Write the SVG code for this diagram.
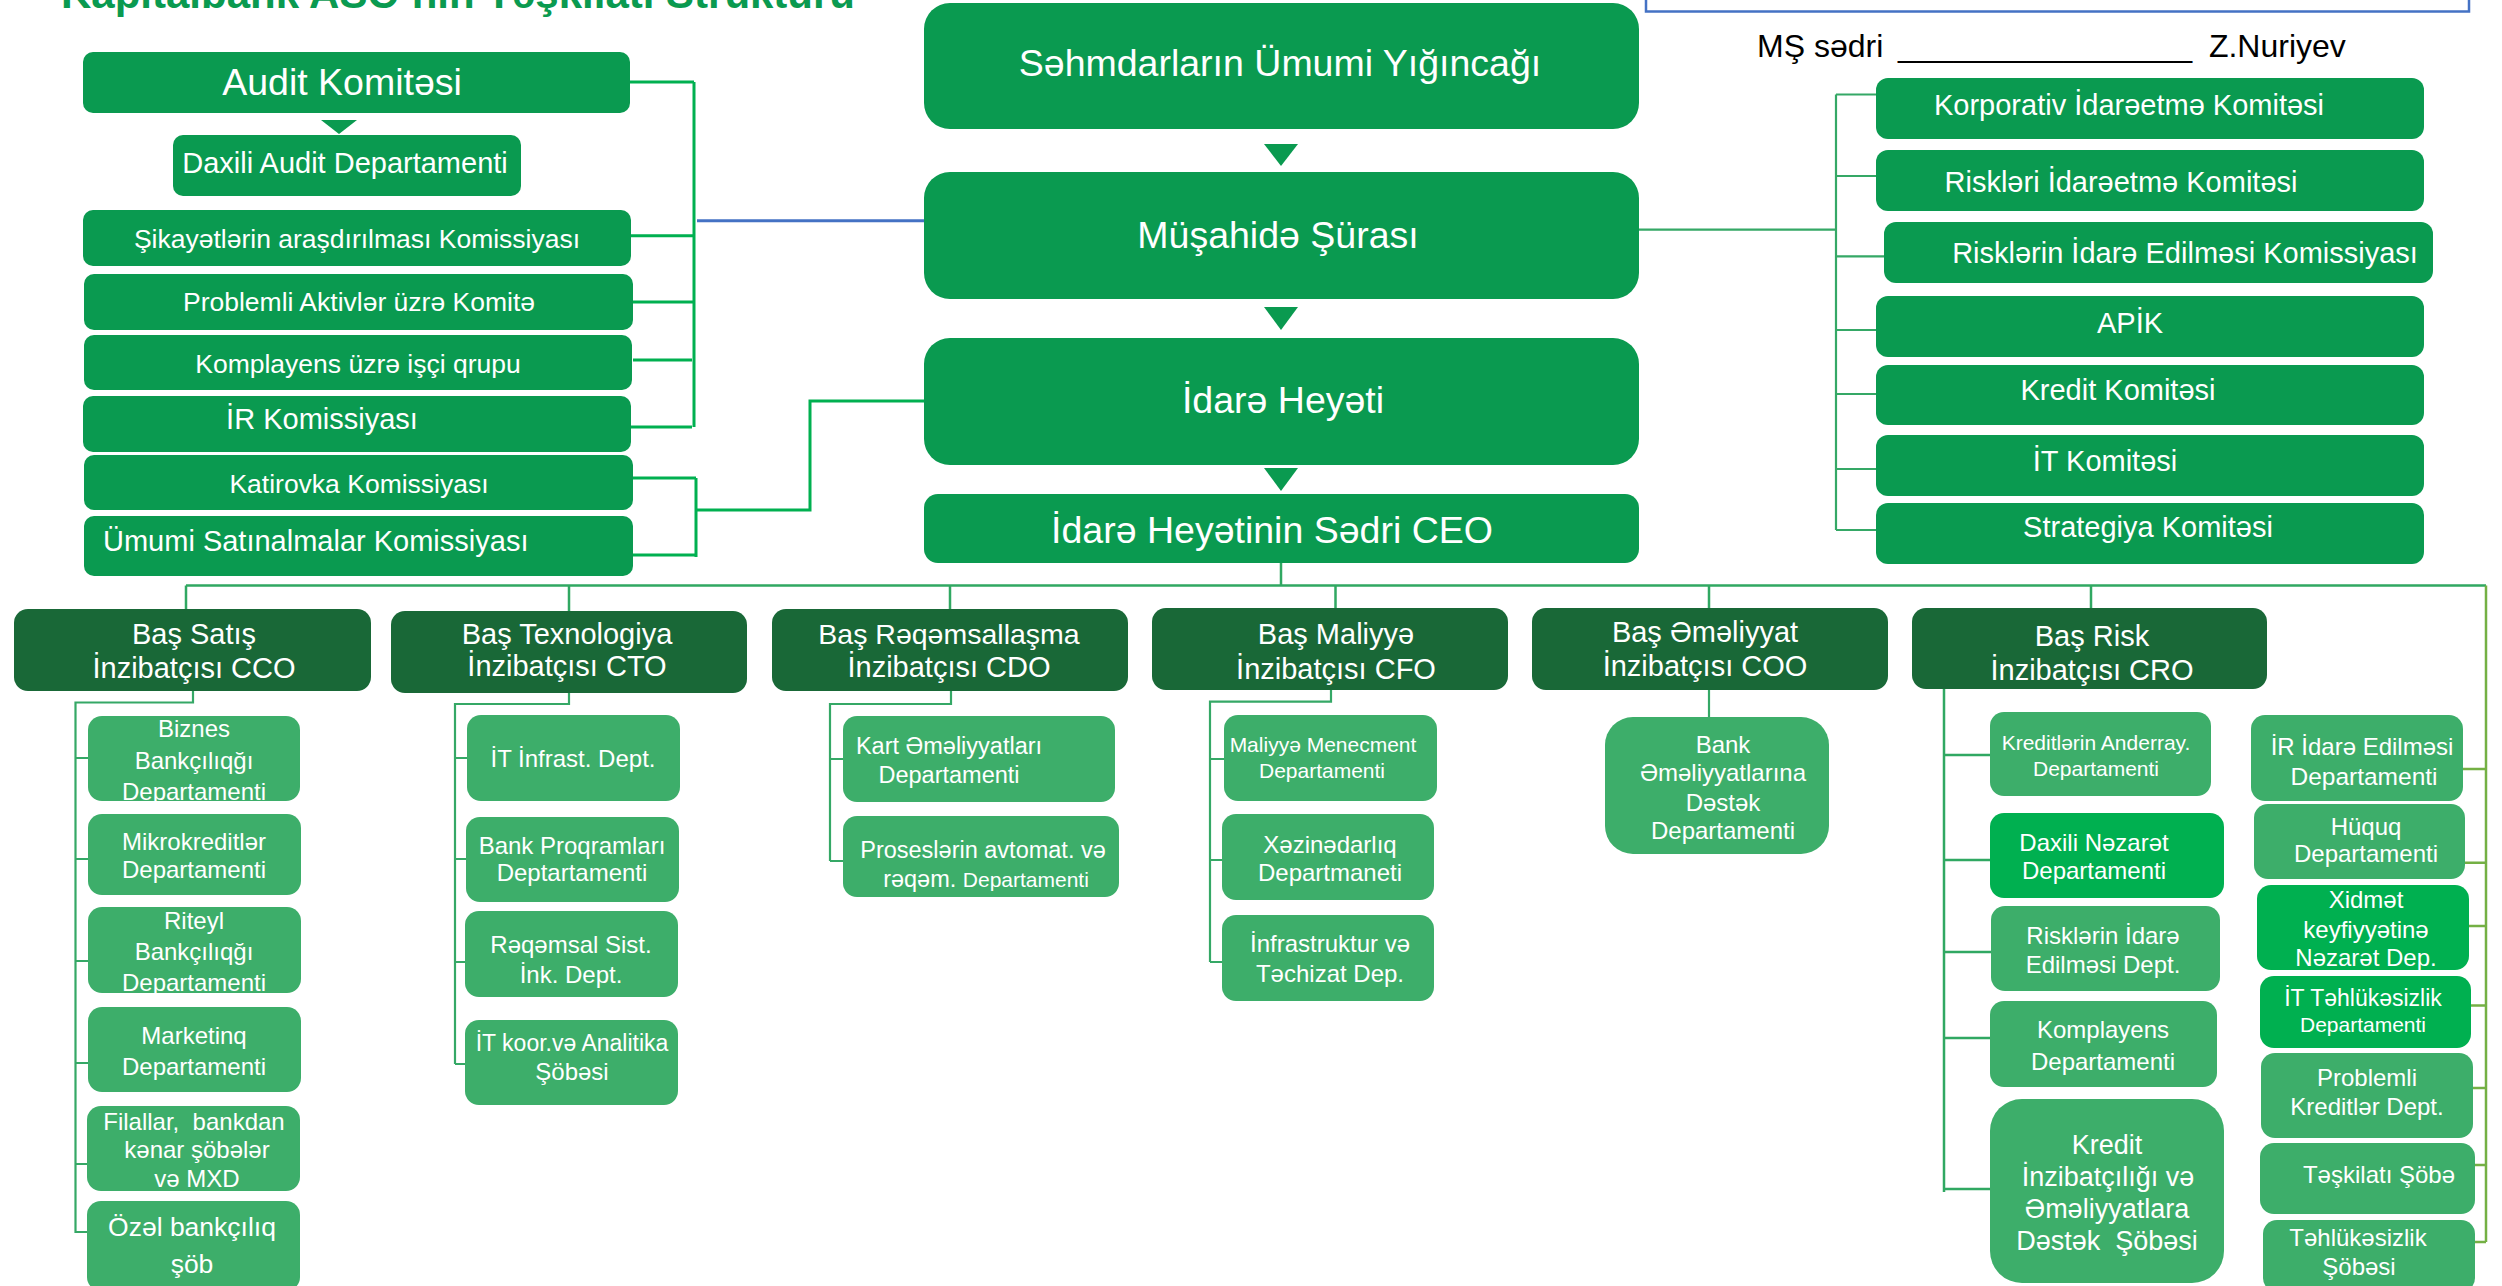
<svg xmlns="http://www.w3.org/2000/svg" width="2502" height="1286" viewBox="0 0 2502 1286">
<style>
text{font-family:"Liberation Sans",Arial,sans-serif;fill:#fff;text-anchor:middle}
.main{fill:#0A9A50}
.dark{fill:#196837}
.sub{fill:#3DAE6A}
.bright{fill:#00B050}
.f37{font-size:37.5px}
.f29{font-size:29px}
.f28{font-size:28.5px}
.f26{font-size:26.5px}
.f24{font-size:24px}
.f21{font-size:21px}
.f27{font-size:27px}
.c1{fill:none;stroke:#00B050;stroke-width:3}
.c2{fill:none;stroke:#35A866;stroke-width:2.2}
.c3{fill:none;stroke:#30A862;stroke-width:2.5}
.c4{fill:none;stroke:#74B044;stroke-width:2.5}
</style>

<g id="title">
<text x="61" y="8" style="font-size:42px;font-weight:bold;fill:#0A9A50;text-anchor:start" textLength="794" lengthAdjust="spacingAndGlyphs">Kapitalbank ASC-nin Təşkilati Strukturu</text>
</g>

<g id="approval">
<rect x="1646" y="-20" width="823" height="31.5" fill="none" stroke="#4472C4" stroke-width="2.5"/>
<text x="1757" y="57" style="font-size:32px;fill:#000;text-anchor:start">MŞ sədri <tspan x="1898" textLength="294" lengthAdjust="spacingAndGlyphs">________________</tspan><tspan x="2200"> Z.Nuriyev</tspan></text>
</g>

<g id="connectors">
<path class="c1" d="M694,82V427M630,82H694M631,235.7H694M633,302H694M633,360H692M631,427H692"/>
<path d="M697,220.7H924" fill="none" stroke="#4472C4" stroke-width="3"/>
<path class="c1" d="M633,478H696M633,555H696M696,478V557M696,510H810V401H924"/>
<path class="c2" d="M1639,229.6H1836M1836,94.5V530M1836,94.5H1876M1836,176H1876M1836,256.4H1884M1836,330H1876M1836,394H1876M1836,469H1876M1836,530H1876"/>
<path class="c3" d="M1281,563V585.5M186,585.5H2486M186,585.5V609M569,585.5V611M950,585.5V609M1335.5,585.5V608M1709,585.5V608M2091,585.5V608"/>
<path class="c4" d="M2486,585.5V1242M2486,769H2463M2486,862.7H2465M2486,926H2469M2486,1005.5H2471M2486,1088H2473M2486,1165H2475M2486,1242H2475"/>
<path class="c2" d="M193,691V702.5H75.5V1233M75.5,758H88M75.5,859H88M75.5,961H88M75.5,1063H88M75.5,1164H87M75.5,1232H87"/>
<path class="c2" d="M569,693V704H455V1064M455,758H467M455,859H466M455,962H465M455,1064H465"/>
<path class="c2" d="M951,691V704H830V861M830,759H843M830,861H843"/>
<path class="c2" d="M1331,690V701.6H1210V962M1210,759H1224M1210,860H1222M1210,962H1222"/>
<path class="c2" d="M1709,690V717"/>
<path class="c3" d="M1944,689V1192M1944,755H1990M1944,860H1990M1944,952H1991M1944,1038H1990M1944,1189H1990"/>
</g>

<g id="arrows" class="main">
<polygon points="1264,144 1298,144 1281,166"/>
<polygon points="1264,307 1298,307 1281,330"/>
<polygon points="1264,468 1298,468 1281,491"/>
<polygon points="321,120 357,120 339,134"/>
</g>

<g id="smu"><rect class="main" x="924" y="3" width="715" height="126" rx="26"/><text class="f37" x="1280" y="76">Səhmdarların Ümumi Yığıncağı</text></g>
<g id="ms"><rect class="main" x="924" y="172" width="715" height="127" rx="26"/><text class="f37" x="1278" y="248">Müşahidə Şürası</text></g>
<g id="ih"><rect class="main" x="924" y="338" width="715" height="127" rx="26"/><text class="f37" x="1283" y="413">İdarə Heyəti</text></g>
<g id="ceo"><rect class="main" x="924" y="494" width="715" height="69" rx="14"/><text class="f37" x="1272" y="543">İdarə Heyətinin Sədri CEO</text></g>

<g id="audit"><rect class="main" x="83" y="52" width="547" height="61" rx="10"/><text class="f37" x="342" y="95">Audit Komitəsi</text></g>
<g id="daxili-audit"><rect class="main" x="173" y="135" width="348" height="61" rx="10"/><text class="f29" x="345" y="173">Daxili Audit Departamenti</text></g>
<g id="sikayet"><rect class="main" x="83" y="210" width="548" height="56" rx="10"/><text class="f26" x="357" y="248">Şikayətlərin araşdırılması Komissiyası</text></g>
<g id="problemli-aktivler"><rect class="main" x="84" y="274" width="549" height="56" rx="10"/><text class="f26" x="359" y="311">Problemli Aktivlər üzrə Komitə</text></g>
<g id="komplayens-qrup"><rect class="main" x="84" y="335" width="548" height="55" rx="10"/><text class="f26" x="358" y="373">Komplayens üzrə işçi qrupu</text></g>
<g id="ir-komissiya"><rect class="main" x="83" y="396" width="548" height="56" rx="10"/><text class="f29" x="322" y="429">İR Komissiyası</text></g>
<g id="katirovka"><rect class="main" x="84" y="455" width="549" height="55" rx="10"/><text class="f26" x="359" y="493">Katirovka Komissiyası</text></g>
<g id="satinalma"><rect class="main" x="84" y="516" width="549" height="60" rx="10"/><text class="f29" x="103" y="551" style="text-anchor:start">Ümumi Satınalmalar Komissiyası</text></g>

<g id="korporativ"><rect class="main" x="1876" y="78" width="548" height="61" rx="12"/><text class="f29" x="2129" y="115">Korporativ İdarəetmə Komitəsi</text></g>
<g id="riskleri"><rect class="main" x="1876" y="150" width="548" height="61" rx="12"/><text class="f29" x="2121" y="192">Riskləri İdarəetmə Komitəsi</text></g>
<g id="risklerin-kom"><rect class="main" x="1884" y="222" width="549" height="61" rx="12"/><text class="f29" x="2185" y="263">Risklərin İdarə Edilməsi Komissiyası</text></g>
<g id="apik"><rect class="main" x="1876" y="296" width="548" height="61" rx="12"/><text class="f29" x="2130" y="333">APİK</text></g>
<g id="kredit-kom"><rect class="main" x="1876" y="365" width="548" height="60" rx="12"/><text class="f29" x="2118" y="400">Kredit Komitəsi</text></g>
<g id="it-kom"><rect class="main" x="1876" y="435" width="548" height="61" rx="12"/><text class="f29" x="2105" y="471">İT Komitəsi</text></g>
<g id="strategiya"><rect class="main" x="1876" y="503" width="548" height="61" rx="12"/><text class="f29" x="2148" y="537">Strategiya Komitəsi</text></g>

<g id="cco"><rect class="dark" x="14" y="609" width="357" height="82" rx="14"/><text class="f29" x="194" y="644">Baş Satış</text><text class="f29" x="194" y="678">İnzibatçısı CCO</text></g>
<g id="cto"><rect class="dark" x="391" y="611" width="356" height="82" rx="14"/><text class="f29" x="567" y="644">Baş Texnologiya</text><text class="f29" x="567" y="676">İnzibatçısı CTO</text></g>
<g id="cdo"><rect class="dark" x="772" y="609" width="356" height="82" rx="14"/><text class="f28" x="949" y="644">Baş Rəqəmsallaşma</text><text class="f29" x="949" y="677">İnzibatçısı CDO</text></g>
<g id="cfo"><rect class="dark" x="1152" y="608" width="356" height="82" rx="14"/><text class="f29" x="1336" y="644">Baş Maliyyə</text><text class="f29" x="1336" y="679">İnzibatçısı CFO</text></g>
<g id="coo"><rect class="dark" x="1532" y="608" width="356" height="82" rx="14"/><text class="f29" x="1705" y="642">Baş Əməliyyat</text><text class="f29" x="1705" y="676">İnzibatçısı COO</text></g>
<g id="cro"><rect class="dark" x="1912" y="608" width="355" height="81" rx="14"/><text class="f29" x="2092" y="646">Baş Risk</text><text class="f29" x="2092" y="680">İnzibatçısı CRO</text></g>

<g id="biznes"><rect class="sub" x="88" y="716" width="212" height="85" rx="14"/><text class="f24" x="194" y="737">Biznes</text><text class="f24" x="194" y="768.5">Bankçılıqğı</text><text class="f24" x="194" y="800">Departamenti</text></g>
<g id="mikrokredit"><rect class="sub" x="88" y="814" width="213" height="81" rx="14"/><text class="f24" x="194" y="849.5">Mikrokreditlər</text><text class="f24" x="194" y="878">Departamenti</text></g>
<g id="riteyl"><rect class="sub" x="88" y="907" width="213" height="86" rx="14"/><text class="f24" x="194" y="928.5">Riteyl</text><text class="f24" x="194" y="960">Bankçılıqğı</text><text class="f24" x="194" y="990.5">Departamenti</text></g>
<g id="marketinq"><rect class="sub" x="88" y="1007" width="213" height="85" rx="14"/><text class="f24" x="194" y="1044">Marketinq</text><text class="f24" x="194" y="1074.5">Departamenti</text></g>
<g id="filallar"><rect class="sub" x="87" y="1106" width="213" height="85" rx="14"/><text class="f24" x="194" y="1130" style="white-space:pre">Filallar,  bankdan</text><text class="f24" x="197" y="1158">kənar şöbələr</text><text class="f24" x="197" y="1186.5">və MXD</text></g>
<g id="ozel"><rect class="sub" x="87" y="1201" width="213" height="90" rx="14"/><text class="f26" x="192" y="1236">Özəl bankçılıq</text><text class="f26" x="192" y="1273">şöb</text></g>

<g id="it-infra"><rect class="sub" x="467" y="715" width="213" height="86" rx="14"/><text class="f24" x="573" y="766.5">İT İnfrast. Dept.</text></g>
<g id="bank-proq"><rect class="sub" x="466" y="817" width="213" height="85" rx="14"/><text class="f24" x="572" y="853.5">Bank Proqramları</text><text class="f24" x="572" y="881">Deptartamenti</text></g>
<g id="reqemsal"><rect class="sub" x="465" y="911" width="213" height="86" rx="14"/><text class="f24" x="571" y="953">Rəqəmsal Sist.</text><text class="f24" x="571" y="982.5">İnk. Dept.</text></g>
<g id="it-koor"><rect class="sub" x="465" y="1020" width="213" height="85" rx="14"/><text x="572" y="1050.5" style="font-size:23px">İT koor.və Analitika</text><text class="f24" x="572" y="1079.5">Şöbəsi</text></g>

<g id="kart"><rect class="sub" x="843" y="716" width="272" height="86" rx="14"/><text x="949" y="754" style="font-size:23.5px">Kart Əməliyyatları</text><text x="949" y="783" style="font-size:23.5px">Departamenti</text></g>
<g id="prosesler"><rect class="sub" x="843" y="816" width="276" height="81" rx="14"/><text x="983" y="857.5" style="font-size:23.5px">Proseslərin avtomat. və</text><text x="986" y="886.5" style="font-size:23.5px">rəqəm. <tspan style="font-size:21px">Departamenti</tspan></text></g>

<g id="maliyye-men"><rect class="sub" x="1224" y="715" width="213" height="86" rx="14"/><text class="f21" x="1323" y="751.5">Maliyyə Menecment</text><text class="f21" x="1322" y="777.5">Departamenti</text></g>
<g id="xezinedarliq"><rect class="sub" x="1222" y="814" width="212" height="86" rx="14"/><text class="f24" x="1330" y="853">Xəzinədarlıq</text><text class="f24" x="1330" y="881">Departmaneti</text></g>
<g id="infrastruktur"><rect class="sub" x="1222" y="915" width="212" height="86" rx="14"/><text class="f24" x="1330" y="952">İnfrastruktur və</text><text class="f24" x="1330" y="981.5">Təchizat Dep.</text></g>

<g id="bank-emel"><rect class="sub" x="1605" y="717" width="224" height="137" rx="28"/><text class="f24" x="1723" y="752.5">Bank</text><text class="f24" x="1723" y="781">Əməliyyatlarına</text><text class="f24" x="1723" y="810.5">Dəstək</text><text class="f24" x="1723" y="838.5">Departamenti</text></g>

<g id="anderray"><rect class="sub" x="1990" y="712" width="221" height="84" rx="14"/><text class="f21" x="2096" y="749.5">Kreditlərin Anderray.</text><text class="f21" x="2096" y="775.5">Departamenti</text></g>
<g id="daxili-nezaret"><rect class="bright" x="1990" y="813" width="234" height="85" rx="14"/><text class="f24" x="2094" y="850.5">Daxili Nəzarət</text><text class="f24" x="2094" y="879">Departamenti</text></g>
<g id="risklerin-dept"><rect class="sub" x="1991" y="906" width="229" height="85" rx="14"/><text class="f24" x="2103" y="944">Risklərin İdarə</text><text class="f24" x="2103" y="972.5">Edilməsi Dept.</text></g>
<g id="komplayens-dept"><rect class="sub" x="1990" y="1001" width="227" height="86" rx="14"/><text class="f24" x="2103" y="1037.5">Komplayens</text><text class="f24" x="2103" y="1069.5">Departamenti</text></g>
<g id="kredit-inz"><rect class="sub" x="1990" y="1099" width="234" height="184" rx="32"/><text class="f27" x="2107" y="1153.5">Kredit</text><text class="f27" x="2108" y="1186">İnzibatçılığı və</text><text class="f27" x="2107" y="1218">Əməliyyatlara</text><text class="f27" x="2107" y="1249.5" style="white-space:pre">Dəstək  Şöbəsi</text></g>

<g id="ir-idare"><rect class="sub" x="2251" y="715" width="212" height="86" rx="14"/><text x="2362" y="755" style="font-size:24px">İR İdarə Edilməsi</text><text style="font-size:24.5px" x="2364" y="784.5">Departamenti</text></g>
<g id="huquq"><rect class="sub" x="2254" y="804" width="211" height="75" rx="14"/><text class="f24" x="2366" y="835">Hüquq</text><text class="f24" x="2366" y="862">Departamenti</text></g>
<g id="xidmet"><rect class="bright" x="2257" y="885" width="212" height="85" rx="14"/><text class="f24" x="2366" y="908">Xidmət</text><text class="f24" x="2366" y="937.5">keyfiyyətinə</text><text class="f24" x="2366" y="965.5">Nəzarət Dep.</text></g>
<g id="it-tehl"><rect class="bright" x="2260" y="976" width="211" height="72" rx="14"/><text x="2363" y="1006" style="font-size:23px">İT Təhlükəsizlik</text><text class="f21" x="2363" y="1032">Departamenti</text></g>
<g id="problemli-kred"><rect class="sub" x="2261" y="1053" width="212" height="85" rx="14"/><text class="f24" x="2367" y="1086">Problemli</text><text class="f24" x="2367" y="1115">Kreditlər Dept.</text></g>
<g id="teskilati"><rect class="sub" x="2260" y="1143" width="215" height="71" rx="14"/><text class="f24" x="2379" y="1182.5">Təşkilatı Şöbə</text></g>
<g id="tehlukesizlik"><rect class="sub" x="2263" y="1220" width="212" height="72" rx="14"/><text class="f24" x="2358" y="1245.5">Təhlükəsizlik</text><text class="f24" x="2359" y="1275">Şöbəsi</text></g>
</svg>
